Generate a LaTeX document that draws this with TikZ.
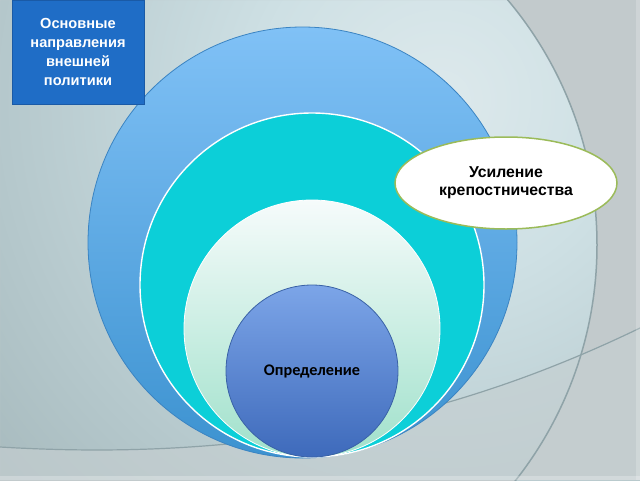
\documentclass[tikz,border=0pt]{standalone}
\usepackage{fontspec}
\setmainfont{Liberation Sans}
\newfontfamily\calib{Carlito}
\usetikzlibrary{shapes.geometric}
\definecolor{bgA}{HTML}{DDE9EC}
\definecolor{bgB}{HTML}{CEE0E4}
\definecolor{bgC}{HTML}{B4C7CB}
\definecolor{bgD}{HTML}{9BAEB1}
\definecolor{bgE}{HTML}{8D9FA2}
\definecolor{bgOut}{HTML}{C2CACC}
\definecolor{bgLow}{HTML}{C6CFD1}
\definecolor{arcLine}{HTML}{8FA3A8}
\definecolor{blueTop}{HTML}{80C1F6}
\definecolor{blueBot}{HTML}{3C92D0}
\definecolor{blueEdge}{HTML}{3B84C2}
\definecolor{tealFill}{HTML}{0CCFD8}
\definecolor{mintTop}{HTML}{F6FBFB}
\definecolor{mintBot}{HTML}{A0E1CB}
\definecolor{darkTop}{HTML}{7CA5E8}
\definecolor{darkBot}{HTML}{3E6ABB}
\definecolor{darkEdge}{HTML}{3A62A6}
\definecolor{olive}{HTML}{9BBB59}
\definecolor{boxFill}{HTML}{1F6DC6}
\definecolor{boxEdge}{HTML}{1A5AA6}
\pgfdeclareradialshading{bgrad}{\pgfpoint{0bp}{0bp}}{color(0bp)=(bgA); color(7.5bp)=(bgB); color(18.5bp)=(bgC); color(29.5bp)=(bgD); color(39bp)=(bgE); color(50bp)=(bgE)}
\tikzset{
  ring/.style={ellipse, inner sep=0pt},
  boxtext/.style={text=white, font=\fontsize{14.6}{19}\selectfont\bfseries, align=center},
  ovaltext/.style={text=black, font=\fontsize{15.8}{18}\selectfont\bfseries, align=center},
}
\begin{document}
\begin{tikzpicture}[x=1pt,y=-1pt]
\useasboundingbox (0,0) rectangle (640,480);
% background
\begin{scope}
\clip (0,0) rectangle (640,480);
\fill[bgE] (0,0) rectangle (640,480);
\shade[shading=bgrad] (440,100) circle (605);
\fill[bgOut, even odd rule] (0,0) rectangle (640,480) (216,245) circle (381);
\fill[bgLow, opacity=0.65] (0,447) .. controls (250,462) and (450,420) .. (640,328) -- (640,480) -- (0,480) -- cycle;
\draw[arcLine, line width=1.5pt] (216,245) circle (381);
\draw[arcLine, line width=1.2pt] (0,447) .. controls (250,462) and (450,420) .. (640,328);
\fill[white, opacity=0.25] (0,476) rectangle (640,480);
\fill[white, opacity=0.2] (636,0) rectangle (640,480);
\end{scope}
% nested ellipses
\node[ring, minimum width=429, minimum height=431, top color=blueTop, bottom color=blueBot, draw=blueEdge, line width=0.8pt] (outer) at (302.5,242.5) {};
\node[ring, minimum width=344, minimum height=344, fill=tealFill, draw=white, line width=1.4pt] (teal) at (312,285) {};
\node[ring, minimum width=256, minimum height=257, top color=mintTop, bottom color=mintBot, draw=white, line width=0.8pt] (mint) at (312,328.5) {};
\node[ring, minimum width=172, minimum height=172, top color=darkTop, bottom color=darkBot, draw=darkEdge, line width=0.8pt, text=black, font=\calib\fontsize{16.2}{18}\selectfont\bfseries] (core) at (312,371) {Определение};
% right oval
\node[ring, minimum width=222, minimum height=92, fill=white, draw=olive, line width=1.5pt, ovaltext] (oval) at (506,183) {Усиление\\крепостничества};
% title box
\node[rectangle, minimum width=132, minimum height=104, fill=boxFill, draw=boxEdge, line width=1pt, inner sep=0pt, boxtext] (title) at (78,52) {Основные\\направления\\внешней\\политики};
\end{tikzpicture}
\end{document}
